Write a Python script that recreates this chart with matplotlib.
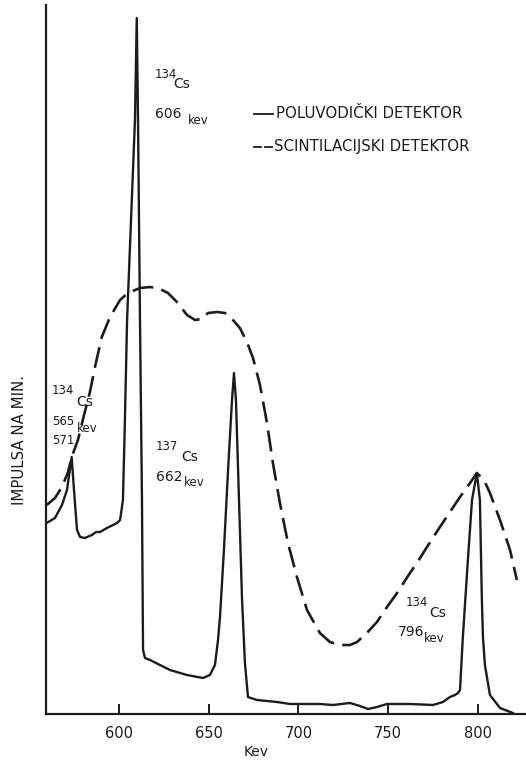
import matplotlib
matplotlib.use("Agg")
import matplotlib.pyplot as plt
from matplotlib.lines import Line2D

# Semiconductor detector (solid) : energy (keV) and counts (arbitrary units)
solid_kev = [559.7, 564.3, 568.2, 571.0, 573.6, 574.9, 576.6, 578.3, 581.0, 584.9,
             587.2, 589.4, 593.3, 598.9, 600.6, 602.2, 603.3, 604.5, 606.7, 608.9,
             609.9, 610.6, 611.7, 612.8, 613.4, 614.5, 617.3, 628.4, 637.9, 646.8,
             650.7, 653.5, 655.2, 656.3, 658.5, 660.8, 663.0, 664.1, 665.2, 666.9,
             668.6, 670.2, 671.3, 671.9, 676.9, 688.1, 695.3, 712.0, 719.3, 728.8,
             734.3, 738.8, 743.8, 749.4, 762.2, 775.0, 780.6, 784.5, 787.3, 789.0,
             790.1, 791.7, 794.5, 796.8, 799.5, 801.2, 802.3, 802.9, 804.0, 806.8,
             812.4, 819.6]
solid_cnt = [191, 196, 209, 224, 257, 224, 184, 177, 176, 179,
             182, 182, 186, 191, 194, 214, 294, 394, 494, 594,
             696, 594, 394, 214, 64, 56, 54, 44, 39, 36,
             39, 49, 74, 97, 164, 244, 314, 341, 314, 214,
             114, 51, 29, 17, 14, 12, 10, 10, 9, 11,
             8, 5, 7, 10, 10, 9, 12, 17, 19, 21,
             24, 77, 154, 214, 241, 214, 114, 77, 49, 19,
             6, 1]

# Scintillation detector (dashed)
dash_kev = [559.7, 564.3, 568.2, 571.6, 573.6, 577.1, 580.5, 583.8, 586.6, 590.4,
            595.0, 600.6, 605.0, 611.7, 617.3, 622.9, 627.3, 632.3, 637.9, 642.4,
            646.3, 649.6, 654.6, 659.1, 663.5, 667.4, 671.3, 674.7, 678.6, 682.5,
            685.8, 689.7, 694.2, 699.2, 704.8, 712.0, 717.6, 723.2, 728.8, 732.7,
            738.2, 743.8, 749.4, 755.0, 762.2, 766.1, 771.7, 778.9, 784.5, 790.1,
            795.7, 799.5, 803.5, 806.8, 812.4, 818.0, 821.8]
dash_cnt = [209, 216, 227, 242, 257, 274, 299, 322, 347, 377,
            397, 414, 421, 426, 427, 425, 421, 412, 399, 394,
            395, 401, 402, 401, 394, 386, 372, 356, 329, 291,
            251, 211, 171, 137, 104, 81, 72, 69, 69, 72,
            81, 92, 107, 121, 141, 151, 167, 187, 202, 217,
            231, 241, 234, 221, 194, 164, 134]

x_ticks = [600, 650, 700, 750, 800]
x_label = "Kev"
y_label = "IMPULSA NA MIN."
legend_solid = "POLUVODIČKI DETEKTOR"
legend_dash = "SCINTILACIJSKI DETEKTOR"

W, H = 526, 760
ink = "#1c1c1c"
fig = plt.figure(figsize=(W / 100, H / 100), dpi=100)
fig.patch.set_facecolor("white")
ax = fig.add_axes([46 / W, (H - 714) / H, (W - 46) / W, (714 - 5) / H])

ax.plot(solid_kev, solid_cnt, color=ink, lw=1.7, solid_joinstyle="round")
ax.plot(dash_kev, dash_cnt, color=ink, lw=1.9, dashes=(8, 3.2), dash_capstyle="butt")

ax.set_xlim(559.3, 826.9)
ax.set_ylim(0, 709)
ax.spines["top"].set_visible(False)
ax.spines["right"].set_visible(False)
for s in ("left", "bottom"):
    ax.spines[s].set_linewidth(1.6)
    ax.spines[s].set_color(ink)
ax.set_xticks(x_ticks)
ax.set_xticklabels([str(t) for t in x_ticks], fontsize=10.5, color=ink)
ax.tick_params(axis="x", direction="in", length=7, width=1.4, color=ink, pad=9)
ax.set_yticks([])


def fx(x):
    return x / W


def fy(y):
    return 1 - y / H


fs_main = 10
fs_sup = 8.5


def txt(x, y, s, size):
    fig.text(fx(x), fy(y), s, fontsize=size, ha="left", va="center", color=ink)


# x label and y label
fig.text(fx(256), fy(752), x_label, fontsize=10, ha="center", va="center", color=ink)
fig.text(fx(20), fy(440), y_label, fontsize=10.8, ha="center", va="center",
         rotation=90, color=ink)

# Peak annotations
txt(155, 74, "134", fs_sup)
txt(173, 84, "Cs", fs_main)
txt(155, 114, "606", fs_main)
txt(188, 121, "kev", fs_sup)

txt(52, 391, "134", fs_sup)
txt(76, 402, "Cs", fs_main)
txt(52, 422, "565", fs_sup)
txt(77, 429, "kev", fs_sup)
txt(52, 440, "571", fs_sup)

txt(156, 446, "137", fs_sup)
txt(181, 457, "Cs", fs_main)
txt(156, 477, "662", fs_main)
txt(184, 483, "kev", fs_sup)

txt(406, 602, "134", fs_sup)
txt(429, 613, "Cs", fs_main)
txt(398, 632, "796", fs_main)
txt(424, 638, "kev", fs_sup)

# Legend (typed as in original)
fs_leg = 10.8
fig.add_artist(Line2D([fx(254), fx(273)], [fy(114), fy(114)], color=ink, lw=1.3))
fig.add_artist(Line2D([fx(254), fx(261)], [fy(147), fy(147)], color=ink, lw=1.3))
fig.add_artist(Line2D([fx(265), fx(272)], [fy(147), fy(147)], color=ink, lw=1.3))
txt(276, 114, legend_solid, fs_leg)
txt(274, 147, legend_dash, fs_leg)

fig.savefig("out.png", dpi=100, facecolor="white")
